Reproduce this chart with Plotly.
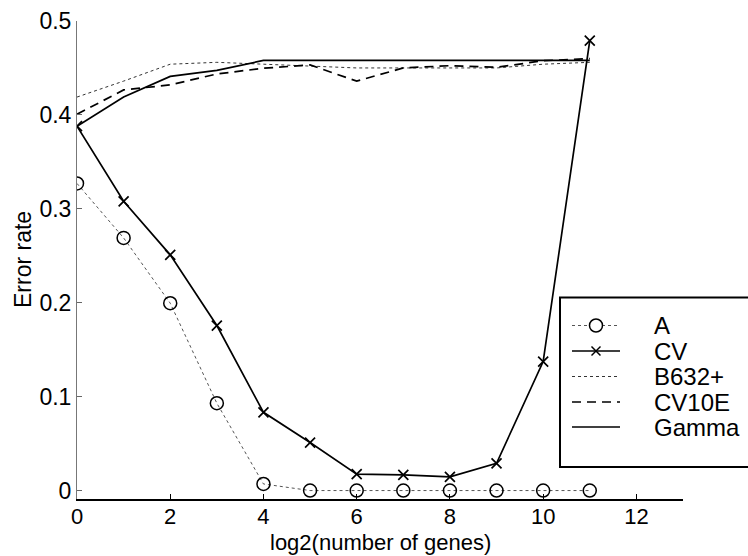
import plotly.graph_objects as go

genes_log2 = [0, 1, 2, 3, 4, 5, 6, 7, 8, 9, 10, 11]
err_A = [0.327, 0.269, 0.1995, 0.093, 0.007, 0.0, 0.0, 0.0, 0.0, 0.0, 0.0, 0.0]
err_CV = [0.388, 0.308, 0.251, 0.1757, 0.0833, 0.0511, 0.0174, 0.0167, 0.0145, 0.029, 0.1373, 0.479]
err_B632 = [0.419, 0.436, 0.454, 0.456, 0.454, 0.452, 0.450, 0.450, 0.450, 0.450, 0.454, 0.456]
err_CV10E = [0.4007, 0.4266, 0.432, 0.4436, 0.4497, 0.4532, 0.436, 0.450, 0.4524, 0.4507, 0.4577, 0.460]
err_Gamma = [0.388, 0.419, 0.441, 0.4475, 0.4580, 0.4580, 0.4580, 0.4580, 0.4580, 0.4580, 0.4580, 0.4580]

series_names = ["A", "CV", "B632+", "CV10E", "Gamma"]
x_ticks = [0, 2, 4, 6, 8, 10, 12]
y_ticks = [0, 0.1, 0.2, 0.3, 0.4, 0.5]
y_tick_text = ["0", "0.1", "0.2", "0.3", "0.4", "0.5"]

FONT = "Liberation Sans, Arial, Helvetica, sans-serif"
W, H = 748, 556
L, R, T, B = 77, 683, 21, 499  # plot area in pixels

def px(p):
    return (p - L) / (R - L)

def py(p):
    return (B - p) / (B - T)

styles = [
    dict(line=dict(color="#555555", width=1, dash="dot"), mode="lines+markers",
         marker=dict(symbol="circle-open", size=13, color="black", line=dict(width=1.5, color="black"))),
    dict(line=dict(color="black", width=1.7), mode="lines+markers",
         marker=dict(symbol="x-thin", size=10, color="black", line=dict(width=1.7, color="black"))),
    dict(line=dict(color="#333333", width=1, dash="dot"), mode="lines"),
    dict(line=dict(color="black", width=1.7, dash="9px,6px"), mode="lines"),
    dict(line=dict(color="black", width=1.7), mode="lines"),
]
series = [err_A, err_CV, err_B632, err_CV10E, err_Gamma]

fig = go.Figure()
for name, ys, st in zip(series_names, series, styles):
    fig.add_trace(go.Scatter(x=genes_log2, y=ys, name=name, showlegend=False, **st))

# ---- legend drawn as decoration (box, samples, labels) ----
shapes = []
annotations = []
leg_left, leg_top, leg_bottom = 560, 297.5, 467
shapes.append(dict(type="rect", xref="paper", yref="paper",
                   x0=px(leg_left), x1=px(770), y0=py(leg_bottom), y1=py(leg_top),
                   fillcolor="white", line=dict(color="black", width=2), layer="above"))
entry_y = [325.5, 351, 376.5, 402, 427]
line_x0, line_x1, mark_x, text_x = 572, 620, 596, 652
for i, (name, st) in enumerate(zip(series_names, styles)):
    yy = entry_y[i]
    ln = st["line"]
    shapes.append(dict(type="line", xref="paper", yref="paper",
                       x0=px(line_x0), x1=px(line_x1), y0=py(yy), y1=py(yy),
                       line=dict(color=ln["color"], width=ln["width"], dash=ln.get("dash", "solid")),
                       layer="above"))
    if name == "A":
        r = 6.5
        shapes.append(dict(type="circle", xref="paper", yref="paper",
                           x0=px(mark_x - r), x1=px(mark_x + r), y0=py(yy + r), y1=py(yy - r),
                           fillcolor="white", line=dict(color="black", width=1.5), layer="above"))
    if name == "CV":
        r = 4.5
        for s in (1, -1):
            shapes.append(dict(type="line", xref="paper", yref="paper",
                               x0=px(mark_x - r), x1=px(mark_x + r),
                               y0=py(yy - s * r), y1=py(yy + s * r),
                               line=dict(color="black", width=1.5), layer="above"))
    annotations.append(dict(text=name, xref="paper", yref="paper", x=px(text_x), y=py(yy),
                            xanchor="left", yanchor="middle", showarrow=False,
                            font=dict(family=FONT, size=24, color="black")))

# axis titles
annotations.append(dict(text="log2(number of genes)", xref="paper", yref="paper",
                        x=0.5, y=py(556), xanchor="center", yanchor="bottom", showarrow=False,
                        borderpad=0,
                        font=dict(family=FONT, size=22, color="black")))
annotations.append(dict(text="Error rate", xref="paper", yref="paper",
                        x=px(23), y=0.5, xanchor="center", yanchor="middle", showarrow=False,
                        textangle=-90, font=dict(family=FONT, size=23, color="black")))

fig.update_layout(
    width=W, height=H,
    margin=dict(l=L, r=W - R, t=T, b=H - B, autoexpand=False),
    paper_bgcolor="white", plot_bgcolor="white",
    font=dict(family=FONT, size=23, color="black"),
    showlegend=False,
    shapes=shapes, annotations=annotations,
    xaxis=dict(
        range=[0, 13], tickvals=x_ticks, ticks="inside", ticklen=5,
        tickcolor="black", showline=True, linecolor="black", linewidth=1.5,
        showgrid=False, zeroline=False, automargin=False,
        tickfont=dict(size=22), ticklabelstandoff=-3,
    ),
    yaxis=dict(
        range=[-0.009, 0.5], tickvals=y_ticks, ticktext=y_tick_text,
        ticks="inside", ticklen=5, tickcolor="#666666",
        showline=True, linecolor="#777777", linewidth=1,
        showgrid=False, zeroline=False, automargin=False,
        tickfont=dict(size=23),
    ),
)

fig.write_html(
    "out.html",
    config={"displayModeBar": False},
    post_script="document.body.style.margin='0';document.body.style.padding='0';document.body.style.overflow='hidden';",
)
